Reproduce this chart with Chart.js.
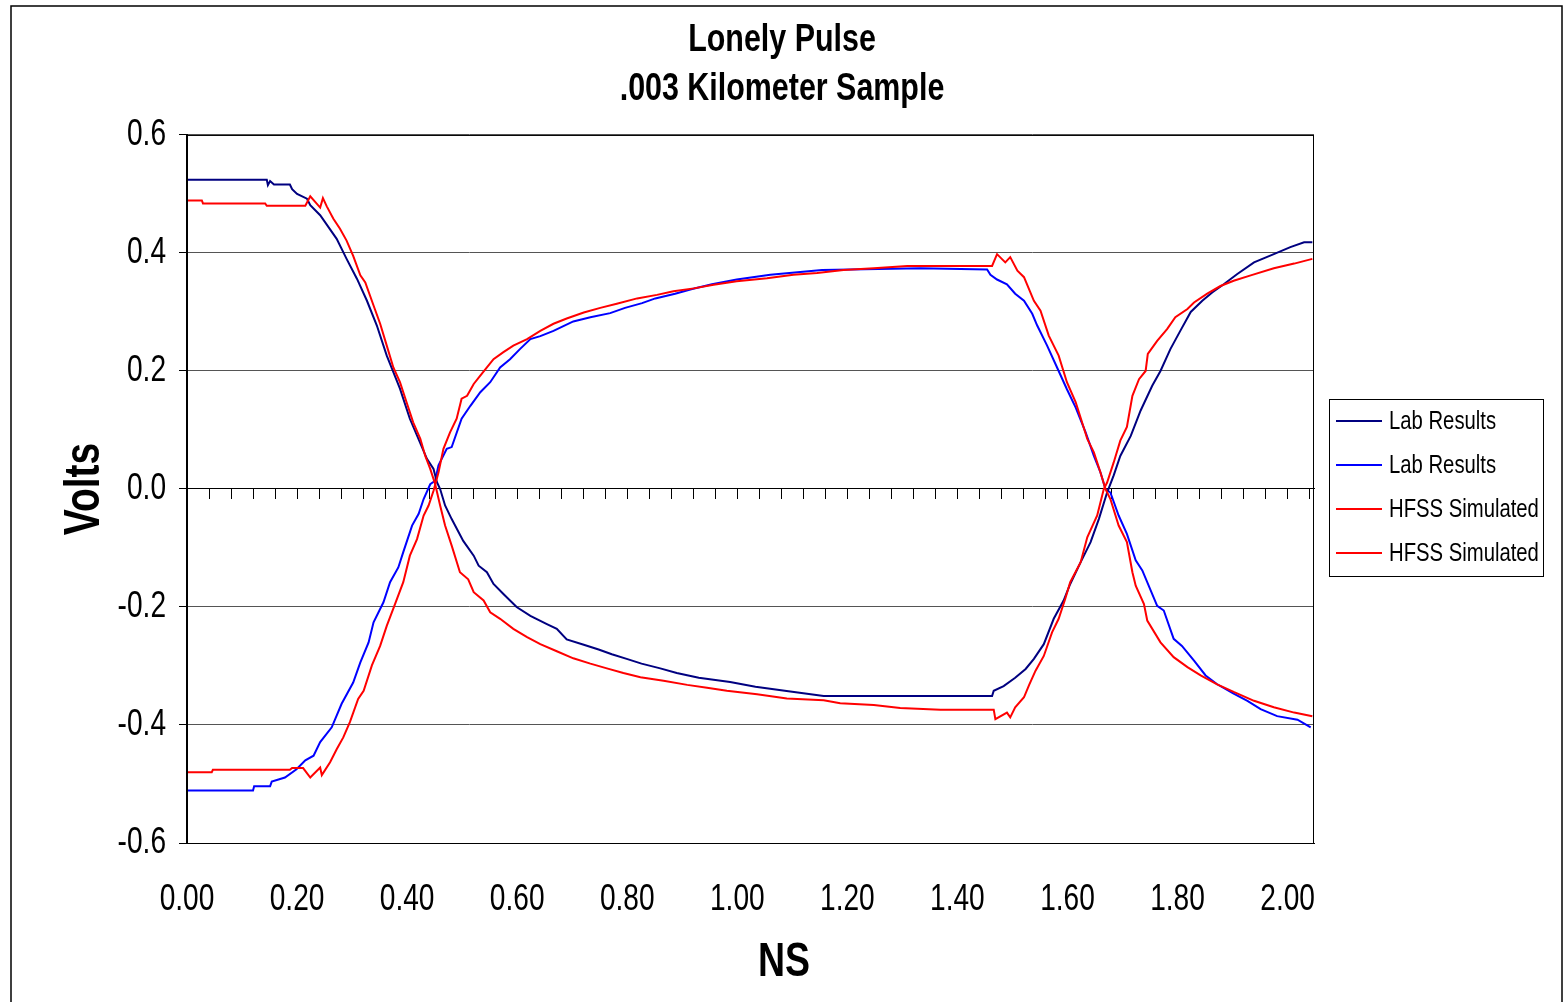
<!DOCTYPE html>
<html>
<head>
<meta charset="utf-8">
<title>Lonely Pulse</title>
<script src="https://cdn.jsdelivr.net/npm/chart.js@4.4.1/dist/chart.umd.min.js"></script>
<style>
    html, body { margin: 0; padding: 0; background: #fff; }
    #wrap { width: 1564px; height: 1002px; position: relative; }
</style>
</head>
<body>
<div id="wrap"><canvas id="pulseChart"></canvas></div>
<script>
// [ns, volts]
const labResultsA = [
    [0, 0.524], [0.145, 0.524], [0.147, 0.515], [0.151, 0.522], [0.158, 0.516], [0.187, 0.516],
    [0.191, 0.508], [0.2, 0.5], [0.218, 0.492], [0.224, 0.481], [0.242, 0.464], [0.26, 0.44],
    [0.272, 0.424], [0.29, 0.39], [0.309, 0.356], [0.327, 0.319], [0.345, 0.277], [0.363, 0.226],
    [0.375, 0.198], [0.387, 0.17], [0.405, 0.119], [0.436, 0.051], [0.448, 0.034], [0.454, 0.012],
    [0.46, 0], [0.469, -0.028], [0.481, -0.051], [0.502, -0.088], [0.521, -0.113], [0.53, -0.13],
    [0.545, -0.141], [0.557, -0.161], [0.575, -0.178], [0.599, -0.2], [0.624, -0.215], [0.654, -0.229],
    [0.672, -0.237], [0.69, -0.255], [0.721, -0.264], [0.748, -0.272], [0.772, -0.28], [0.799, -0.288],
    [0.826, -0.296], [0.86, -0.304], [0.89, -0.312], [0.93, -0.32], [0.987, -0.327], [1.033, -0.335],
    [1.093, -0.343], [1.157, -0.351], [1.463, -0.351], [1.466, -0.342], [1.484, -0.334], [1.505, -0.32],
    [1.524, -0.305], [1.539, -0.288], [1.557, -0.263], [1.575, -0.22], [1.593, -0.189], [1.605, -0.161],
    [1.624, -0.124], [1.642, -0.09], [1.657, -0.051], [1.672, -0.006], [1.684, 0.023], [1.696, 0.056],
    [1.715, 0.09], [1.733, 0.133], [1.754, 0.175], [1.769, 0.2], [1.787, 0.237], [1.805, 0.268],
    [1.824, 0.3], [1.845, 0.319], [1.863, 0.333], [1.884, 0.347], [1.908, 0.364], [1.939, 0.384],
    [1.975, 0.398], [2.005, 0.41], [2.03, 0.418], [2.045, 0.418]
];
const labResultsB = [
    [0, -0.511], [0.12, -0.511], [0.122, -0.504], [0.151, -0.504], [0.154, -0.496], [0.178, -0.489],
    [0.199, -0.475], [0.215, -0.46], [0.23, -0.452], [0.242, -0.429], [0.263, -0.404], [0.281, -0.364],
    [0.302, -0.328], [0.315, -0.294], [0.33, -0.26], [0.339, -0.226], [0.357, -0.192], [0.369, -0.158],
    [0.384, -0.133], [0.393, -0.107], [0.409, -0.062], [0.421, -0.042], [0.43, -0.017], [0.442, 0.008],
    [0.451, 0.014], [0.457, 0.04], [0.472, 0.068], [0.481, 0.071], [0.499, 0.119], [0.515, 0.141],
    [0.533, 0.164], [0.551, 0.181], [0.569, 0.206], [0.587, 0.22], [0.605, 0.237], [0.624, 0.254],
    [0.642, 0.259], [0.666, 0.268], [0.684, 0.276], [0.702, 0.284], [0.733, 0.291], [0.769, 0.298],
    [0.796, 0.307], [0.827, 0.315], [0.851, 0.323], [0.887, 0.331], [0.918, 0.339], [0.954, 0.347],
    [0.999, 0.355], [1.06, 0.363], [1.154, 0.371], [1.333, 0.374], [1.454, 0.372], [1.46, 0.363],
    [1.472, 0.355], [1.49, 0.347], [1.505, 0.331], [1.521, 0.319], [1.536, 0.297], [1.545, 0.277],
    [1.563, 0.243], [1.584, 0.2], [1.599, 0.169], [1.615, 0.138], [1.633, 0.096], [1.648, 0.056],
    [1.66, 0.028], [1.669, 0], [1.678, -0.006], [1.693, -0.045], [1.708, -0.076], [1.724, -0.121],
    [1.736, -0.138], [1.763, -0.198], [1.775, -0.206], [1.793, -0.254], [1.808, -0.266], [1.83, -0.291],
    [1.851, -0.316], [1.872, -0.331], [1.902, -0.347], [1.927, -0.359], [1.951, -0.373], [1.981, -0.385],
    [2.018, -0.391], [2.042, -0.404]
];
const hfssSimA = [
    [0, 0.489], [0.027, 0.489], [0.029, 0.484], [0.142, 0.484], [0.145, 0.48], [0.215, 0.48],
    [0.224, 0.496], [0.242, 0.477], [0.247, 0.493], [0.254, 0.479], [0.266, 0.458], [0.278, 0.441],
    [0.29, 0.421], [0.302, 0.395], [0.315, 0.362], [0.324, 0.35], [0.339, 0.311], [0.351, 0.28],
    [0.363, 0.243], [0.375, 0.206], [0.387, 0.181], [0.399, 0.147], [0.411, 0.113], [0.424, 0.085],
    [0.433, 0.056], [0.442, 0.034], [0.451, 0.008], [0.46, -0.028], [0.469, -0.062], [0.481, -0.096],
    [0.496, -0.141], [0.511, -0.153], [0.521, -0.175], [0.539, -0.189], [0.551, -0.209], [0.569, -0.22],
    [0.593, -0.237], [0.618, -0.251], [0.642, -0.263], [0.672, -0.275], [0.702, -0.287], [0.733, -0.296],
    [0.763, -0.304], [0.793, -0.312], [0.824, -0.319], [0.866, -0.325], [0.909, -0.332], [0.945, -0.337],
    [0.981, -0.342], [1.036, -0.348], [1.09, -0.355], [1.157, -0.358], [1.187, -0.363], [1.248, -0.366],
    [1.296, -0.371], [1.369, -0.374], [1.466, -0.374], [1.469, -0.39], [1.49, -0.379], [1.496, -0.387],
    [1.505, -0.37], [1.521, -0.353], [1.53, -0.333], [1.542, -0.308], [1.557, -0.283], [1.572, -0.243],
    [1.584, -0.22], [1.596, -0.186], [1.605, -0.158], [1.624, -0.124], [1.636, -0.082], [1.654, -0.045],
    [1.666, 0], [1.672, 0.011], [1.684, 0.045], [1.696, 0.082], [1.708, 0.105], [1.718, 0.158],
    [1.73, 0.186], [1.742, 0.2], [1.746, 0.229], [1.763, 0.251], [1.781, 0.271], [1.796, 0.291],
    [1.818, 0.305], [1.83, 0.316], [1.854, 0.331], [1.878, 0.344], [1.902, 0.353], [1.933, 0.362],
    [1.975, 0.374], [2.012, 0.382], [2.045, 0.39]
];
const hfssSimB = [
    [0, -0.48], [0.045, -0.48], [0.047, -0.476], [0.187, -0.476], [0.191, -0.473], [0.211, -0.473],
    [0.224, -0.489], [0.242, -0.472], [0.245, -0.485], [0.26, -0.463], [0.272, -0.441], [0.284, -0.421],
    [0.296, -0.395], [0.311, -0.356], [0.321, -0.342], [0.336, -0.299], [0.351, -0.266], [0.363, -0.232],
    [0.378, -0.195], [0.393, -0.158], [0.405, -0.113], [0.418, -0.085], [0.43, -0.045], [0.439, -0.028],
    [0.448, -0.003], [0.457, 0.028], [0.466, 0.068], [0.478, 0.096], [0.49, 0.119], [0.499, 0.153],
    [0.509, 0.158], [0.521, 0.178], [0.533, 0.192], [0.545, 0.206], [0.557, 0.22], [0.575, 0.232],
    [0.593, 0.243], [0.618, 0.254], [0.642, 0.268], [0.666, 0.28], [0.69, 0.289], [0.721, 0.299],
    [0.751, 0.307], [0.781, 0.314], [0.818, 0.323], [0.854, 0.329], [0.884, 0.335], [0.921, 0.34],
    [0.957, 0.346], [0.999, 0.352], [1.054, 0.357], [1.102, 0.363], [1.145, 0.366], [1.193, 0.371],
    [1.248, 0.374], [1.309, 0.378], [1.463, 0.378], [1.472, 0.398], [1.487, 0.384], [1.496, 0.393],
    [1.509, 0.37], [1.521, 0.359], [1.539, 0.319], [1.551, 0.302], [1.566, 0.26], [1.584, 0.226],
    [1.599, 0.181], [1.615, 0.147], [1.636, 0.085], [1.648, 0.062], [1.66, 0.028], [1.669, 0],
    [1.678, -0.017], [1.693, -0.062], [1.708, -0.09], [1.718, -0.141], [1.724, -0.164], [1.739, -0.195],
    [1.745, -0.223], [1.769, -0.26], [1.793, -0.285], [1.818, -0.302], [1.842, -0.316], [1.872, -0.331],
    [1.902, -0.344], [1.939, -0.359], [1.975, -0.37], [2.012, -0.379], [2.045, -0.385]
];

// axis ticks
const xTickValues = [0, 0.2, 0.4, 0.6, 0.8, 1.0, 1.2, 1.4, 1.6, 1.8, 2.0];
const yTickValues = [-0.6, -0.4, -0.2, 0, 0.2, 0.4, 0.6];
const X_MAX = 2.048;      // 512 samples, 4 ps apart
const MINOR_STEP = 0.04;  // small ticks on the zero line

const FONT = '"Liberation Sans", Arial, sans-serif';
const NARROW = 0.78;      // no Arial Narrow here, so squeeze the text instead
Chart.defaults.font.family = FONT;
Chart.defaults.color = '#000';

const toXY = rows => rows.map(r => ({ x: r[0], y: r[1] }));

// white page + outer chart border, plot box, NS title
const chartFrame = {
    id: 'chartFrame',
    beforeDraw(chart) {
        const c = chart.ctx;
        c.save();
        c.fillStyle = '#fff';
        c.fillRect(0, 0, chart.width, chart.height);
        c.strokeStyle = '#000';
        c.lineWidth = 1.5;
        c.strokeRect(11, 6, 1551, chart.height + 20);
        c.restore();
    },
    afterDraw(chart) {
        const { ctx: c, chartArea: a } = chart;
        c.save();
        c.strokeStyle = '#000';
        c.lineWidth = 1;
        c.strokeRect(a.left + 0.5, a.top + 0.5, a.right - a.left - 1, a.bottom - a.top);
        // x axis title sits centred on the whole chart, like Excel does it
        c.fillStyle = '#000';
        c.font = 'bold 48px ' + FONT;
        c.textAlign = 'center';
        c.textBaseline = 'middle';
        c.fillText('NS', 784, 963);
        c.restore();
    }
};

// boxed legend on the right, in dataset order
const excelLegend = {
    id: 'excelLegend',
    afterDraw(chart) {
        const { ctx: c, chartArea: a } = chart;
        const sets = chart.data.datasets;
        const rowGap = 44;
        const w = 214;
        const h = sets.length * rowGap + 1;
        const left = a.right + 15;
        const top = Math.round((a.top + a.bottom) / 2 - h / 2) - 1;
        c.save();
        c.fillStyle = '#fff';
        c.fillRect(left, top, w, h);
        c.strokeStyle = '#000';
        c.lineWidth = 1;
        c.strokeRect(left + 0.5, top + 0.5, w, h);
        c.font = '26px ' + FONT;
        c.textBaseline = 'middle';
        c.textAlign = 'left';
        sets.forEach((ds, i) => {
            const y = top + 22 + i * rowGap;
            c.strokeStyle = ds.borderColor;
            c.lineWidth = 2;
            c.beginPath();
            c.moveTo(left + 7, y);
            c.lineTo(left + 53, y);
            c.stroke();
            c.fillStyle = '#000';
            c.fillText(ds.label, left + 60, y + 1);
        });
        c.restore();
    }
};

const ctx = document.getElementById('pulseChart').getContext('2d');
// every label on this canvas gets drawn narrow, like the Excel original
const plainFillText = ctx.fillText;
ctx.fillText = function (text, x, y, maxWidth) {
    const squeezed = this.measureText(text).width * NARROW;
    const limit = maxWidth === undefined ? squeezed : Math.min(maxWidth, squeezed);
    plainFillText.call(this, text, x, y, limit);
};

const pulseChart = new Chart(ctx, {
    type: 'line',
    data: {
        datasets: [
            { label: 'Lab Results', data: toXY(labResultsA), borderColor: '#000080', order: 2 },
            { label: 'Lab Results', data: toXY(labResultsB), borderColor: '#0000FF', order: 2 },
            { label: 'HFSS Simulated', data: toXY(hfssSimA), borderColor: '#FF0000', order: 1 },
            { label: 'HFSS Simulated', data: toXY(hfssSimB), borderColor: '#FF0000', order: 1 }
        ]
    },
    options: {
        responsive: true,
        maintainAspectRatio: false,
        animation: false,
        devicePixelRatio: 1,
        elements: {
            point: { radius: 0, hoverRadius: 0 },
            line: { borderWidth: 2, tension: 0, fill: false }
        },
        layout: { padding: 0 },
        plugins: {
            legend: { display: false },
            tooltip: { enabled: false },
            title: {
                display: true,
                text: ['Lonely Pulse', '.003 Kilometer Sample'],
                color: '#000',
                font: { size: 39, weight: 'bold', lineHeight: 1.256 },
                padding: { top: 16, bottom: 21 }
            }
        },
        scales: {
            x: {
                type: 'linear',
                position: 'bottom',
                min: 0,
                max: X_MAX,
                afterBuildTicks: axis => { axis.ticks = xTickValues.map(v => ({ value: v })); },
                afterFit: axis => { axis.height = 159; },
                grid: { display: false },
                border: { display: true, color: '#000', width: 1 },
                ticks: {
                    padding: 27,
                    autoSkip: false,
                    maxRotation: 0,
                    font: { size: 36 },
                    callback: v => Number(v).toFixed(2)
                }
            },
            // minor tick marks hanging off the zero line
            xZero: {
                type: 'linear',
                axis: 'x',
                position: { y: 0 },
                min: 0,
                max: X_MAX,
                afterBuildTicks: axis => {
                    const t = [];
                    for (let k = 0; k * MINOR_STEP <= X_MAX; k++) t.push({ value: +(k * MINOR_STEP).toFixed(2) });
                    axis.ticks = t;
                },
                ticks: { display: false },
                grid: { drawOnChartArea: false, drawTicks: true, tickLength: 10, color: '#000', lineWidth: 1 },
                border: { display: true, color: '#000', width: 1 }
            },
            y: {
                type: 'linear',
                position: 'left',
                min: -0.6,
                max: 0.6,
                afterBuildTicks: axis => { axis.ticks = yTickValues.map(v => ({ value: v })); },
                afterFit: axis => { axis.width = 187; },
                grid: {
                    color: c => (c.tick && c.tick.value === 0 ? '#000' : '#555'),
                    lineWidth: 1,
                    drawTicks: true,
                    tickLength: 8,
                    tickColor: '#000'
                },
                border: { color: '#000', width: 2 },
                ticks: {
                    padding: 13,
                    font: { size: 36 },
                    callback: v => Number(v).toFixed(1)
                },
                title: {
                    display: true,
                    text: 'Volts',
                    font: { size: 50, weight: 'bold' },
                    padding: { top: 55, bottom: 0 }
                }
            },
            // empty strip that leaves room for the legend
            yLegendSpace: {
                type: 'linear',
                axis: 'y',
                position: 'right',
                min: -0.6,
                max: 0.6,
                afterFit: axis => { axis.width = 250; },
                grid: { display: false, drawOnChartArea: false },
                border: { display: false },
                ticks: { display: false }
            }
        }
    },
    plugins: [chartFrame, excelLegend]
});
</script>
</body>
</html>
